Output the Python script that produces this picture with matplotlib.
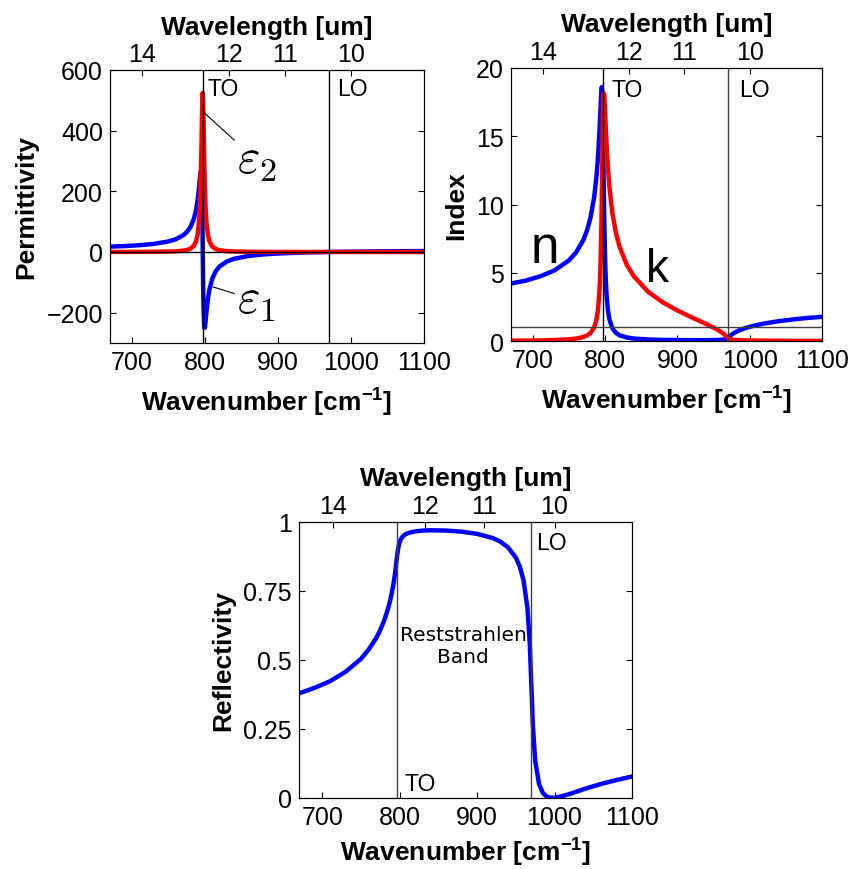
import numpy as np
import matplotlib
matplotlib.use('Agg')
import matplotlib.pyplot as plt

plt.rcParams['font.family'] = ['Liberation Sans', 'DejaVu Sans']
plt.rcParams['mathtext.fontset'] = 'custom'
plt.rcParams['mathtext.rm'] = 'Liberation Sans'
plt.rcParams['mathtext.bf'] = 'Liberation Sans:bold'

########################################################
# Donnees (nombre d'onde en cm-1)
wn = [670, 690, 710, 730, 750, 760, 770, 775, 780, 785,
      788, 790, 792, 793, 794, 795, 795.5, 796, 796.5, 797,
      797.5, 798, 799, 800, 801, 802, 804, 806, 810, 815,
      820, 830, 840, 860, 880, 900, 920, 930, 940, 950,
      955, 960, 965, 968, 970, 972, 975, 980, 985, 990,
      995, 1000, 1010, 1020, 1040, 1060, 1080, 1100]

eps1 = [17.69, 19.57, 22.32, 26.72, 34.80, 42.10, 54.73, 65.22, 81.58, 110.33,
        140.48, 171.10, 214.83, 241.20, 264.51, 264.33, 240.79, 190.50, 109.55, 6.70,
        -95.96, -176.48, -249.51, -249.37, -225.99, -199.63, -155.96, -125.37, -87.92, -62.57,
        -47.74, -31.23, -22.30, -12.89, -8.00, -5.01, -2.99, -2.21, -1.54, -0.96,
        -0.70, -0.45, -0.22, -0.08, 0.00, 0.09, 0.21, 0.40, 0.59, 0.76,
        0.93, 1.09, 1.38, 1.65, 2.11, 2.51, 2.84, 3.14]

eps2 = [0.19, 0.27, 0.41, 0.70, 1.42, 2.29, 4.28, 6.43, 10.68, 21.00,
        36.21, 57.29, 101.66, 143.27, 210.15, 315.20, 381.98, 450.04, 503.78, 524.45,
        503.18, 449.07, 314.25, 209.52, 142.88, 101.42, 57.18, 36.15, 17.98, 9.53,
        5.88, 2.87, 1.70, 0.79, 0.46, 0.30, 0.21, 0.18, 0.15, 0.13,
        0.13, 0.12, 0.11, 0.11, 0.10, 0.10, 0.10, 0.09, 0.09, 0.08,
        0.08, 0.08, 0.07, 0.06, 0.05, 0.04, 0.04, 0.03]

n_idx = [4.21, 4.42, 4.73, 5.17, 5.90, 6.49, 7.40, 8.09, 9.05, 10.55,
         11.95, 13.26, 15.04, 16.15, 17.35, 18.38, 18.61, 18.43, 17.68, 16.30,
         14.43, 12.37, 8.71, 6.18, 4.55, 3.48, 2.25, 1.60, 0.95, 0.60,
         0.42, 0.26, 0.18, 0.11, 0.08, 0.07, 0.06, 0.06, 0.06, 0.07,
         0.07, 0.09, 0.12, 0.16, 0.23, 0.33, 0.47, 0.64, 0.77, 0.87,
         0.96, 1.04, 1.17, 1.28, 1.45, 1.58, 1.69, 1.77]

k_idx = [0.02, 0.03, 0.04, 0.07, 0.12, 0.18, 0.29, 0.40, 0.59, 1.00,
         1.52, 2.16, 3.38, 4.44, 6.06, 8.57, 10.27, 12.21, 14.25, 16.09,
         17.44, 18.15, 18.04, 16.96, 15.71, 14.55, 12.69, 11.31, 9.43, 7.93,
         6.92, 5.59, 4.73, 3.59, 2.83, 2.24, 1.73, 1.49, 1.24, 0.98,
         0.84, 0.68, 0.48, 0.33, 0.23, 0.15, 0.11, 0.07, 0.06, 0.05,
         0.04, 0.04, 0.03, 0.02, 0.02, 0.01, 0.01, 0.01]

refl = [0.379, 0.399, 0.423, 0.457, 0.504, 0.538, 0.581, 0.609, 0.643, 0.686,
        0.719, 0.745, 0.776, 0.794, 0.814, 0.836, 0.848, 0.860, 0.872, 0.883,
        0.894, 0.903, 0.917, 0.927, 0.934, 0.940, 0.948, 0.953, 0.959, 0.963,
        0.966, 0.969, 0.970, 0.969, 0.965, 0.957, 0.942, 0.929, 0.908, 0.871,
        0.839, 0.788, 0.688, 0.559, 0.412, 0.263, 0.136, 0.050, 0.018, 0.005,
        0.001, 0.001, 0.007, 0.015, 0.034, 0.051, 0.065, 0.078]

TO = 797
LO = 970
wl_ticks = [14, 12, 11, 10]          # um
wn_ticks = [700, 800, 900, 1000, 1100]

LW = 3.2
FT = 18     # graduations
FL = 19     # titres des axes
FM = 16.5   # TO / LO


def cadre(x0, y0, x1, y1):
    """rectangle en pixels (origine en haut a gauche) -> coordonnees figure"""
    return [x0/854, 1-y1/870, (x1-x0)/854, (y1-y0)/870]


def habillage(ax, ylim, yticks, ylabels, ylabel, pad_bas=7):
    """axes style matlab + axe du haut en longueur d'onde"""
    ax.set_xlim(670, 1100)
    ax.set_ylim(ylim)
    ax.set_xticks(wn_ticks)
    ax.set_yticks(yticks)
    ax.set_yticklabels(ylabels)
    ax.tick_params(direction='in', length=4, right=True, top=False, labelsize=FT, pad=5)
    ax.set_xlabel(r'Wavenumber [cm$^{\mathbf{-1}}$]', fontsize=FL, fontweight='bold', labelpad=pad_bas)
    ax.set_ylabel(ylabel, fontsize=FL, fontweight='bold', labelpad=6)
    haut = ax.twiny()
    haut.set_xlim(670, 1100)
    haut.set_xticks([1e4/l for l in wl_ticks])
    haut.set_xticklabels([str(l) for l in wl_ticks])
    haut.tick_params(direction='in', length=4, labelsize=FT, pad=3)
    haut.set_xlabel('Wavelength [um]', fontsize=FL, fontweight='bold', labelpad=6)
    return haut


fig = plt.figure(figsize=(8.54, 8.70), dpi=100)

# Permittivite
ax1 = fig.add_axes(cadre(110, 71, 424, 344))
ax1.plot(wn, eps1, 'b', lw=LW)
ax1.plot(wn, eps2, 'r', lw=LW)
ax1.axvline(TO, color='k', lw=1)
ax1.axvline(LO, color='k', lw=1)
ax1.axhline(0, color='k', lw=1)
habillage(ax1, (-300, 600), [-200, 0, 200, 400, 600], ['\u2212200', '0', '200', '400', '600'], 'Permittivity')
ax1.text(804, 540, 'TO', fontsize=FM, va='center')
ax1.text(981, 540, 'LO', fontsize=FM, va='center')
ax1.annotate(r'$\varepsilon_2$', xy=(798.6, 460), xytext=(844, 300), fontsize=35, math_fontfamily='cm',
             va='center', ha='left', arrowprops=dict(arrowstyle='-', color='k', lw=0.8, shrinkA=0, shrinkB=0))
ax1.annotate(r'$\varepsilon_1$', xy=(811, -115), xytext=(844, -160), fontsize=35, math_fontfamily='cm',
             va='center', ha='left', arrowprops=dict(arrowstyle='-', color='k', lw=0.8, shrinkA=0, shrinkB=0))

# Indice
ax2 = fig.add_axes(cadre(511, 69, 822, 342))
ax2.plot(wn, n_idx, 'b', lw=LW)
ax2.plot(wn, k_idx, 'r', lw=LW)
ax2.axvline(TO, color='k', lw=1)
ax2.axvline(LO, color='0.25', lw=1)
ax2.axhline(1, color='0.25', lw=1)
habillage(ax2, (0, 20), [0, 5, 10, 15, 20], ['0', '5', '10', '15', '20'], 'Index')
ax2.text(809, 18.4, 'TO', fontsize=FM, va='center')
ax2.text(985, 18.4, 'LO', fontsize=FM, va='center')
ax2.text(717, 6.8, 'n', fontsize=37, ha='center', va='center')
ax2.text(872, 5.3, 'k', fontsize=33, ha='center', va='center')

# Reflectivite
ax3 = fig.add_axes(cadre(299, 523, 632, 799))
ax3.plot(wn, refl, 'b', lw=LW)
ax3.axvline(TO, color='0.25', lw=1)
ax3.axvline(LO, color='0.25', lw=1)
habillage(ax3, (0, 1), [0, 0.25, 0.5, 0.75, 1], ['0', '0.25', '0.5', '0.75', '1'], 'Reflectivity', pad_bas=4)
ax3.text(806, 0.054, 'TO', fontsize=FM, va='center')
ax3.text(976, 0.924, 'LO', fontsize=FM, va='center')
ax3.text(882, 0.554, 'Reststrahlen\nBand', fontsize=14.5, ha='center', va='center',
         family='DejaVu Sans', linespacing=1.2)

fig.savefig('out.png', dpi=100)
